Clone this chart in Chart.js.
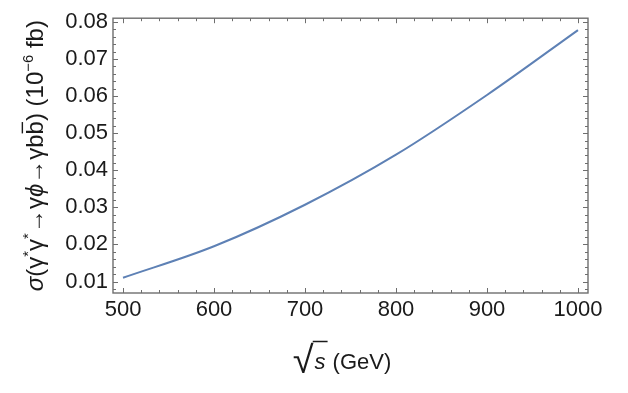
<!DOCTYPE html>
<html>
<head>
<meta charset="utf-8">
<script src="https://cdn.jsdelivr.net/npm/chart.js@4.4.0/dist/chart.umd.min.js"></script>
<style>
html, body { margin: 0; padding: 0; background: #fff; }
</style>
</head>
<body>
<canvas id="c" width="628" height="393"></canvas>
<script>
// values
const sqrtS = [500, 600, 700, 800, 900, 1000];
const sigma = [0.0110, 0.0195, 0.0307, 0.0442, 0.0603, 0.0778];
const xTicks = [500, 600, 700, 800, 900, 1000];
const yTicks = [0.01, 0.02, 0.03, 0.04, 0.05, 0.06, 0.07, 0.08];

const FONT = '"Liberation Sans", Arial, sans-serif';
const TEXT = '#1a1a1a';

// y title pieces: sup = superscript, bar = overline, it = italic
const yTitle = [
  { t: 'σ', it: true }, { t: '(γ' }, { t: '*', sup: true }, { t: 'γ' }, { t: '*', sup: true },
  { t: '→γ' }, { t: 'ϕ', it: true }, { t: '→γb' }, { t: 'b', bar: true },
  { t: ') (10' }, { t: '−6', sup: true }, { t: ' fb)' }
];

function rich(ctx, segs, x0, base, size, draw) {
  let x = x0;
  for (const s of segs) {
    const fs = s.sup ? size * 0.62 : size;
    ctx.font = (s.it ? 'italic ' : '') + fs + 'px ' + FONT;
    const w = ctx.measureText(s.t).width;
    if (draw) {
      ctx.fillText(s.t, x, base + (s.sup ? -size * 0.42 : 0));
      if (s.bar) {
        ctx.beginPath();
        ctx.moveTo(x + 1, base - size * 0.86);
        ctx.lineTo(x + w - 1, base - size * 0.86);
        ctx.stroke();
      }
    }
    x += w;
  }
  return x - x0;
}

const framePlugin = {
  id: 'frame',
  afterDatasetsDraw(chart) {
    const { ctx, chartArea: a, scales: { x, y } } = chart;
    ctx.save();
    ctx.strokeStyle = '#6e6e6e';
    ctx.lineWidth = 1.4;
    ctx.strokeRect(a.left, a.top, a.right - a.left, a.bottom - a.top);
    ctx.lineWidth = 1;
    ctx.beginPath();
    for (let v = 500; v <= x.max; v += 20) {
      const px = Math.round(x.getPixelForValue(v)) + 0.5;
      const len = v % 100 === 0 ? 5 : 3;
      ctx.moveTo(px, a.bottom); ctx.lineTo(px, a.bottom - len);
      ctx.moveTo(px, a.top); ctx.lineTo(px, a.top + len);
    }
    for (let k = 4; k * 0.002 <= y.max; k++) {
      const py = Math.round(y.getPixelForValue(k * 0.002)) + 0.5;
      const len = k % 5 === 0 ? 5 : 3;
      ctx.moveTo(a.left, py); ctx.lineTo(a.left + len, py);
      ctx.moveTo(a.right, py); ctx.lineTo(a.right - len, py);
    }
    ctx.stroke();
    ctx.restore();
  },
  afterDraw(chart) {
    const { ctx, chartArea: a } = chart;
    ctx.save();
    ctx.fillStyle = TEXT;
    ctx.strokeStyle = TEXT;
    ctx.lineWidth = 1.4;
    ctx.textBaseline = 'alphabetic';
    ctx.textAlign = 'left';

    // y title, rotated
    const size = 24;
    const w = rich(ctx, yTitle, 0, 0, size, false);
    ctx.save();
    ctx.translate(43, (a.top + a.bottom) / 2);
    ctx.rotate(-Math.PI / 2);
    rich(ctx, yTitle, -w / 2, 0, size, true);
    ctx.restore();

    // x title: sqrt(s) (GeV)
    const base = 369;
    const barY = 341.5;
    ctx.font = '38px ' + FONT;
    const rm = ctx.measureText('√');
    const rw = rm.width;
    ctx.font = 'italic 22px ' + FONT;
    const sw = ctx.measureText('s').width;
    ctx.font = '22px ' + FONT;
    const gw = ctx.measureText('(GeV)').width;
    const gap = 8;
    const total = rw + sw + gap + gw;
    let x0 = 342 - total / 2;
    ctx.font = '38px ' + FONT;
    ctx.fillText('√', x0, barY + rm.actualBoundingBoxAscent);
    const rightTop = x0 + rm.actualBoundingBoxRight;
    x0 += rw;
    ctx.font = 'italic 22px ' + FONT;
    ctx.fillText('s', x0 + 1, base);
    ctx.beginPath();
    ctx.lineWidth = 1.5;
    ctx.moveTo(rightTop - 1, barY);
    ctx.lineTo(x0 + sw + 3, barY);
    ctx.stroke();
    x0 += sw + gap;
    ctx.font = '22px ' + FONT;
    ctx.fillText('(GeV)', x0, base);
    ctx.restore();
  }
};

new Chart(document.getElementById('c').getContext('2d'), {
  type: 'line',
  data: {
    datasets: [{
      data: sqrtS.map((v, i) => ({ x: v, y: sigma[i] })),
      borderColor: '#5e81b5',
      borderWidth: 2,
      pointRadius: 0,
      cubicInterpolationMode: 'monotone',
      fill: false
    }]
  },
  options: {
    responsive: false,
    animation: false,
    layout: { padding: { left: 62, top: 9, right: 40, bottom: 0 } },
    plugins: { legend: { display: false }, tooltip: { enabled: false } },
    scales: {
      x: {
        type: 'linear', min: 489, max: 1011,
        grid: { display: false, drawTicks: false },
        border: { display: false },
        afterBuildTicks: s => { s.ticks = xTicks.map(v => ({ value: v })); },
        afterFit: s => { s.height = 100; },
        ticks: { color: TEXT, font: { family: FONT, size: 22 }, padding: 4, maxRotation: 0, callback: v => String(v) }
      },
      y: {
        type: 'linear', min: 0.0069, max: 0.081,
        grid: { display: false, drawTicks: false },
        border: { display: false },
        afterBuildTicks: s => { s.ticks = yTicks.map(v => ({ value: v })); },
        afterFit: s => { s.width = 51; },
        ticks: { color: TEXT, font: { family: FONT, size: 22 }, padding: 5, callback: v => v.toFixed(2) }
      }
    }
  },
  plugins: [framePlugin]
});
</script>
</body>
</html>
